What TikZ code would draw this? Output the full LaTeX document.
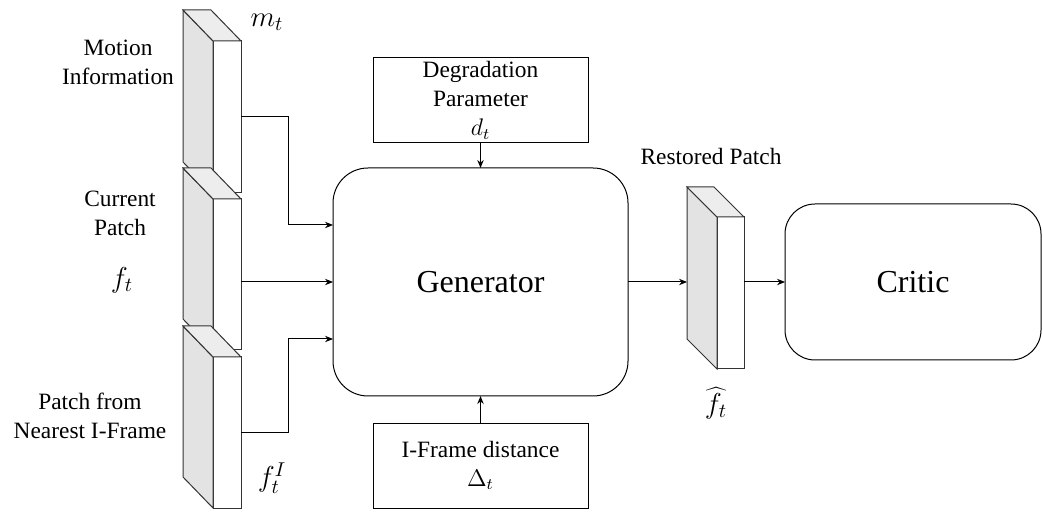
\documentclass[tikz,border=0pt]{standalone}
\usepackage{fontspec}
\setmainfont{Liberation Serif}
\usetikzlibrary{calc,arrows.meta}
\begin{document}
\begin{tikzpicture}[x=0.5pt,y=-0.5pt,
  edge/.style={draw=black!80, line width=0.5pt},
  slabfront/.style={edge, fill=white, minimum width=14pt, inner sep=0pt, outer sep=0pt},
  sideface/.style={edge, fill=black!11},
  topface/.style={edge, fill=black!7},
  box/.style={draw=black, line width=0.5pt, fill=white, inner sep=0pt, outer sep=0pt, align=center, font=\fontsize{11.7}{14.5}\selectfont},
  round/.style={box, font=\fontsize{16}{19}\selectfont},
  lbl/.style={inner sep=0pt, align=center, font=\fontsize{11.7}{14.5}\selectfont},
  mlbl/.style={inner sep=0pt, font=\fontsize{14}{16}\selectfont},
  arr/.style={draw=black, line width=0.5pt, -{Stealth[length=4pt,width=3.2pt]}},
  ln/.style={draw=black, line width=0.5pt}
]
\useasboundingbox (0,0) rectangle (1042,512);

% slabs
\node[slabfront, minimum height=76pt] (s1) at (227,117) {};
\filldraw[sideface] (s1.north west) -- ++(-30,-31) -- ($(s1.south west)+(-30,-31)$) -- (s1.south west) -- cycle;
\filldraw[topface] (s1.north west) -- ++(-30,-31) -- ++(28,0) -- (s1.north east) -- cycle;

\node[slabfront, minimum height=75.5pt] (s2) at (227,274.5) {};
\filldraw[sideface] (s2.north west) -- ++(-30,-31) -- ($(s2.south west)+(-30,-31)$) -- (s2.south west) -- cycle;
\filldraw[topface] (s2.north west) -- ++(-30,-31) -- ++(28,0) -- (s2.north east) -- cycle;

\node[slabfront, minimum height=75.5pt] (s3) at (227,432.5) {};
\filldraw[sideface] (s3.north west) -- ++(-30,-31) -- ($(s3.south west)+(-30,-31)$) -- (s3.south west) -- cycle;
\filldraw[topface] (s3.north west) -- ++(-30,-31) -- ++(28,0) -- (s3.north east) -- cycle;

\node[slabfront, minimum height=76pt, minimum width=13.5pt] (r) at (730.5,293) {};
\filldraw[sideface] (r.north west) -- ++(-30,-30) -- ($(r.south west)+(-30,-30)$) -- (r.south west) -- cycle;
\filldraw[topface] (r.north west) -- ++(-30,-30) -- ++(27,0) -- (r.north east) -- cycle;

% main boxes
\node[round, rounded corners=17.5pt, minimum width=147.5pt, minimum height=114pt] (gen) at (480.5,282) {Generator};
\node[round, rounded corners=15pt, minimum width=128pt, minimum height=78pt] (critic) at (913,282) {Critic};
\node[box, minimum width=107.5pt, minimum height=42.5pt] (deg) at (480.5,100.5) {Degradation\\Parameter\\$d_t$};
\node[box, minimum width=107.5pt, minimum height=42.5pt] (ifd) at (480.5,465.5) {I-Frame distance\\$\Delta_t$};

% labels
\node[lbl] (lm) at (118,62) {Motion\\Information};
\node[lbl] (lc) at (120,213) {Current\\Patch};
\node[mlbl] (lf) at (122,280) {$f_t$};
\node[lbl] (lp) at (90,416) {Patch from\\Nearest I-Frame};
\node[mlbl] (lmt) at (267,22) {$m_t$};
\node[mlbl] (lfi) at (272,478) {$f_t^I$};
\node[lbl] (lr) at (711,157) {Restored Patch};
\node[mlbl] (lfh) at (716,403) {$\widehat{f_t}$};

% connectors
\draw[arr] (s1.east) -- ++(47,0) |- ($(gen.west)+(0,-57)$);
\draw[arr] (s2.east |- gen.west) -- (gen.west);
\draw[arr] (s3.east) -- ++(47,0) |- ($(gen.west)+(0,57)$);
\draw[arr] (deg.south) -- (gen.north);
\draw[arr] (ifd.north) -- (gen.south);
\draw[arr] (gen.east) -- ($(r.west |- gen.east)+(-30,0)$);
\draw[arr] (r.east |- critic.west) -- (critic.west);
\end{tikzpicture}
\end{document}
